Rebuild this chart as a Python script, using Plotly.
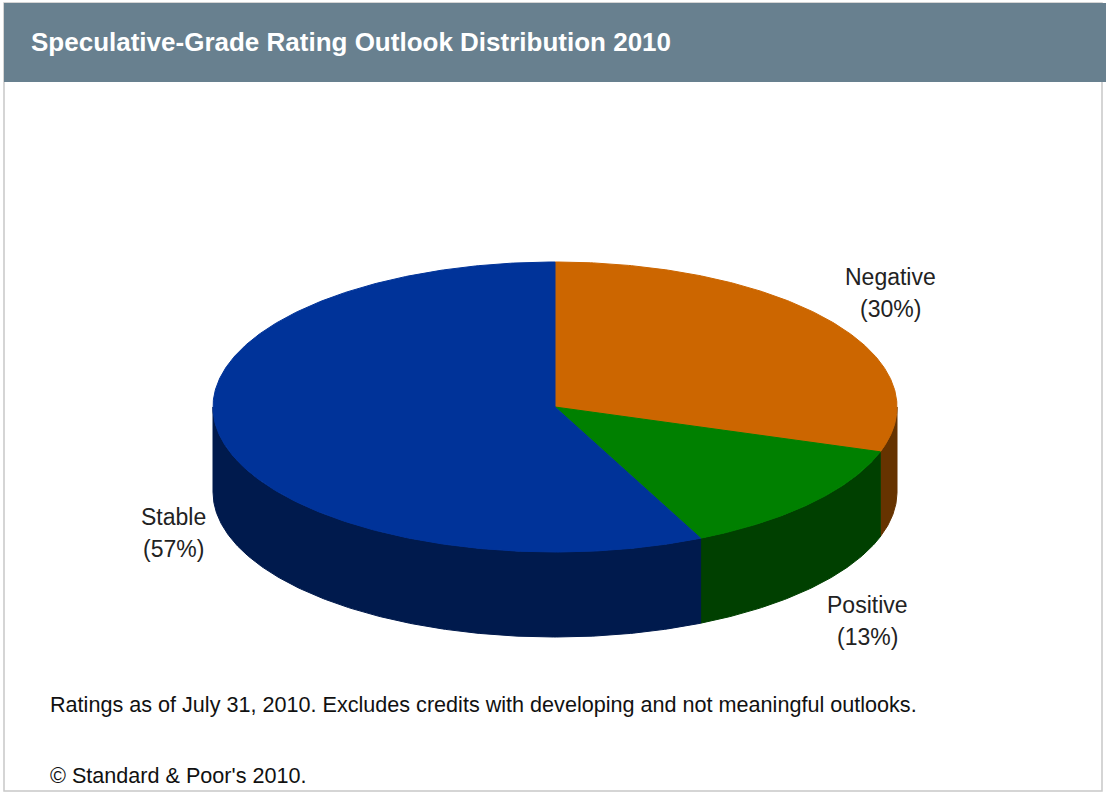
import numpy as np
import plotly.graph_objects as go

# ---- data ----
categories = ["Negative", "Positive", "Stable"]
shares = [30, 13, 57]
top_colors = ["#CC6600", "#008000", "#003399"]
side_colors = ["#663300", "#004000", "#001A4D"]
title_text = "Speculative-Grade Rating Outlook Distribution 2010"
footnote_text = "Ratings as of July 31, 2010. Excludes credits with developing and not meaningful outlooks."
copyright_text = "© Standard & Poor's 2010."

# ---- geometry of the tilted pie (pixel space) ----
W, H = 1106, 794
CX, CY, RX, RY, DEPTH = 555, 407, 342, 145, 85
label_pos = {"Negative": (890, 277), "Positive": (867, 605), "Stable": (173, 517)}
LINE_GAP = 32


def arc(a0, a1, dy=0.0):
    t = np.radians(np.linspace(a0, a1, max(2, int(abs(a1 - a0) * 2) + 2)))
    return CX + RX * np.sin(t), CY - RY * np.cos(t) + dy


fig = go.Figure()

total = float(sum(shares))
starts = np.concatenate([[0.0], np.cumsum(shares)[:-1]]) / total * 360.0
ends = np.cumsum(shares) / total * 360.0

# side walls (visible front half: 90..270 deg clockwise from top)
for cat, s, e, col in zip(categories, starts, ends, side_colors):
    a, b = max(s, 90.0), min(e, 270.0)
    if a < b:
        xt, yt = arc(a, b)
        xb, yb = arc(b, a, DEPTH)
        fig.add_trace(go.Scatter(
            x=np.concatenate([xt, xb, xt[:1]]), y=np.concatenate([yt, yb, yt[:1]]),
            mode="lines", fill="toself", fillcolor=col,
            line=dict(color=col, width=1), hoverinfo="skip", showlegend=False))

# top faces
for cat, v, s, e, col in zip(categories, shares, starts, ends, top_colors):
    xa, ya = arc(s, e)
    fig.add_trace(go.Scatter(
        x=np.concatenate([[CX], xa, [CX]]), y=np.concatenate([[CY], ya, [CY]]),
        mode="lines", fill="toself", fillcolor=col,
        line=dict(color=col, width=1), hoverinfo="text",
        hovertext=f"{cat} ({v}%)", showlegend=False))

annotations = []
for cat, v in zip(categories, shares):
    x, y = label_pos[cat]
    for i, line in enumerate([cat, f"({v}%)"]):
        annotations.append(dict(x=x, y=y + i * LINE_GAP, xref="x", yref="y", text=line,
                                showarrow=False, xanchor="center", yanchor="middle",
                                font=dict(family="Liberation Sans, Arial, sans-serif",
                                          size=23, color="#222222")))

annotations.append(dict(x=29, y=42, xref="x", yref="y", text=f"<b>{title_text}</b>",
                        showarrow=False, xanchor="left", yanchor="middle",
                        font=dict(family="Liberation Sans Narrow, Arial Narrow, Liberation Sans, sans-serif",
                                  size=26, color="white")))
annotations.append(dict(x=48, y=704, xref="x", yref="y", text=footnote_text,
                        showarrow=False, xanchor="left", yanchor="middle",
                        font=dict(family="Liberation Sans, Arial, sans-serif", size=21.6, color="#111111")))
annotations.append(dict(x=48, y=775, xref="x", yref="y", text=copyright_text,
                        showarrow=False, xanchor="left", yanchor="middle",
                        font=dict(family="Liberation Sans, Arial, sans-serif", size=21.6, color="#111111")))

shapes = [
    dict(type="rect", xref="x", yref="y", x0=4, y0=3, x1=1102, y1=791,
         line=dict(color="#C8C8C8", width=1.5), fillcolor="white", layer="below"),
    dict(type="rect", xref="x", yref="y", x0=4, y0=3, x1=1106, y1=82,
         line=dict(width=0), fillcolor="#68808F", layer="below"),
]

fig.update_layout(
    width=W, height=H, margin=dict(l=0, r=0, t=0, b=0),
    paper_bgcolor="white", plot_bgcolor="white",
    xaxis=dict(range=[0, W], visible=False, fixedrange=True),
    yaxis=dict(range=[H, 0], visible=False, fixedrange=True),
    annotations=annotations, shapes=shapes,
)

fig.write_html("out.html")
